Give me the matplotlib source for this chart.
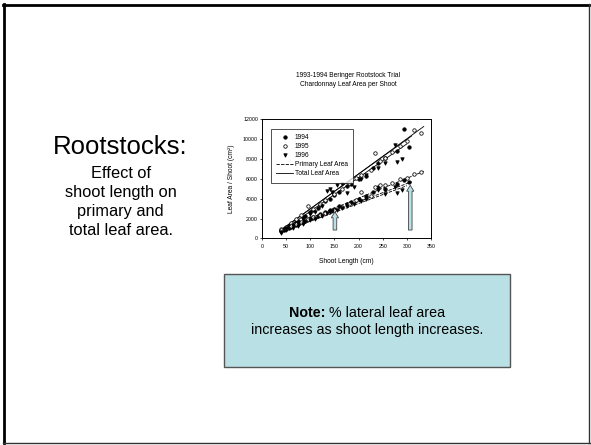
import matplotlib
matplotlib.use('Agg')
import matplotlib.pyplot as plt
from matplotlib.lines import Line2D
from matplotlib.patches import Rectangle, FancyArrow

plt.rcParams['font.family'] = ['Liberation Sans', 'DejaVu Sans']

W, H = 591, 445

# shoot length (cm) with total and primary leaf area (cm2) per shoot
x94 = [40, 45, 55, 60, 70, 75, 85, 90, 100, 105, 115, 120, 130, 140, 150, 160, 175, 185, 200, 215, 230, 240, 255, 280, 295, 305]
total94 = [900, 1000, 1300, 1500, 1700, 1800, 2200, 2300, 2700, 2900, 3100, 3400, 3800, 4000, 4400, 4700, 5300, 5500, 6000, 6300, 7100, 7600, 8100, 8800, 11000, 9200]
primary94 = [800, 900, 1100, 1200, 1400, 1500, 1700, 1800, 2100, 2200, 2300, 2500, 2700, 2900, 3000, 3300, 3500, 3700, 4000, 4300, 4700, 5200, 5000, 5500, 5850, 5680]

x95 = [40, 50, 60, 70, 80, 95, 105, 120, 130, 150, 165, 180, 195, 205, 225, 235, 245, 255, 270, 285, 300, 315, 330]
total95 = [1000, 1200, 1600, 2000, 2400, 3300, 3000, 3500, 3900, 4500, 5000, 5600, 6100, 6400, 6900, 8550, 7800, 8050, 8700, 9300, 9800, 10850, 10580]
primary95 = [900, 1000, 1300, 1500, 1700, 2000, 2200, 2400, 2600, 2900, 3200, 3500, 3900, 4680, 4300, 5180, 5350, 5350, 5600, 5950, 6100, 6450, 6680]

x96 = [40, 50, 65, 75, 85, 100, 110, 125, 135, 140, 145, 155, 165, 175, 190, 205, 215, 240, 255, 275, 280, 290]
total96 = [700, 1100, 1400, 1600, 2000, 2500, 2700, 3300, 4800, 5000, 4700, 5350, 5450, 4600, 5200, 5950, 6400, 7100, 7600, 9350, 7680, 8000]
primary96 = [600, 900, 1100, 1300, 1500, 1900, 2000, 2300, 2600, 2700, 2800, 2900, 3100, 3300, 3500, 3800, 4000, 4850, 4500, 5180, 4550, 4850]

# regression lines per season: shoot length range and leaf area at each end
fit_x = [(40, 310), (40, 335), (40, 300)]
fit_total = [(900, 10300), (850, 11250), (700, 9500)]
fit_primary = [(750, 5700), (850, 6750), (650, 5300)]

# arrows marking 150 cm and 300 cm shoots
arrow_x = [151, 307]
arrow_base = 850
arrow_tip = [2680, 5350]

xticks = [0, 50, 100, 150, 200, 250, 300, 350]
yticks = [0, 2000, 4000, 6000, 8000, 10000, 12000]

side_lines = ['Effect of', 'shoot length on', 'primary and', 'total leaf area.']


def fx(px):
    return px / W


def fy(py):
    return 1 - py / H


fig = plt.figure(figsize=(W / 100, H / 100), dpi=100)

# slide frame, heavy on top and left
fig.add_artist(Line2D([fx(3), fx(589)], [fy(4.6), fy(4.6)], color='black', lw=2.0))
fig.add_artist(Line2D([fx(4.2), fx(4.2)], [fy(3.5), fy(443)], color='black', lw=2.0))
fig.add_artist(Line2D([fx(589), fx(589)], [fy(3.5), fy(443)], color='#333333', lw=1.0))
fig.add_artist(Line2D([fx(3), fx(589.5)], [fy(442.7), fy(442.7)], color='#333333', lw=1.0))

# left hand slide text
fig.text(fx(120.5), fy(147.5), 'Rootstocks:', fontsize=18.5, ha='center', va='center')
for i, line in enumerate(side_lines):
    fig.text(fx(120.8), fy(173.3 + 19.2 * i), line, fontsize=11.8, ha='center', va='center')

# chart title
fig.text(fx(348), fy(75.7), '1993-1994 Beringer Rootstock Trial', fontsize=4.8, ha='center', va='center')
fig.text(fx(348), fy(84.0), 'Chardonnay Leaf Area per Shoot', fontsize=4.8, ha='center', va='center')

ax = fig.add_axes([fx(262), fy(238.5), 169 / W, 119.5 / H])

for xs, tot, prim, mk, face in [(x94, total94, primary94, 'o', 'black'),
                                (x95, total95, primary95, 'o', 'white'),
                                (x96, total96, primary96, 'v', 'black')]:
    ax.plot(xs, tot, linestyle='none', marker=mk, ms=2.5, mfc=face, mec='black', mew=0.55, zorder=3)
    ax.plot(xs, prim, linestyle='none', marker=mk, ms=2.5, mfc=face, mec='black', mew=0.55, zorder=3)

for i in range(len(fit_x)):
    ax.plot(fit_x[i], fit_total[i], color='black', lw=0.6, zorder=2)
    ax.plot(fit_x[i], fit_primary[i], color='black', lw=0.6, dashes=(4, 1.5), zorder=2)

for i in range(len(arrow_x)):
    ax.add_patch(FancyArrow(arrow_x[i], arrow_base, 0, arrow_tip[i] - arrow_base,
                            width=7.5, head_width=15, head_length=600,
                            length_includes_head=True, fc='#b9e0e4', ec='#444444', lw=0.6, zorder=4))

ax.set_xlim(0, 350)
ax.set_ylim(0, 12000)
ax.set_xticks(xticks)
ax.set_yticks(yticks)
ax.tick_params(direction='out', length=1.6, width=0.5, labelsize=3.8)
ax.tick_params(axis='x', pad=2.5)
ax.tick_params(axis='y', pad=1.3)
for sp in ax.spines.values():
    sp.set_linewidth(0.7)

ax.set_xlabel('Shoot Length (cm)', fontsize=4.8)
ax.xaxis.set_label_coords(0.5, -0.165)
ax.set_ylabel('Leaf Area / Shoot (cm²)', fontsize=4.8)
ax.yaxis.set_label_coords(-0.16, 0.5)

handles = [Line2D([], [], linestyle='none', marker='o', ms=2.5, mfc='black', mec='black', mew=0.55),
           Line2D([], [], linestyle='none', marker='o', ms=2.5, mfc='white', mec='black', mew=0.55),
           Line2D([], [], linestyle='none', marker='v', ms=2.5, mfc='black', mec='black', mew=0.55),
           Line2D([], [], color='black', lw=0.6, dashes=(4, 1.5)),
           Line2D([], [], color='black', lw=0.6)]
labels = ['1994', '1995', '1996', 'Primary Leaf Area', 'Total Leaf Area']
leg = ax.legend(handles, labels, loc='upper left', bbox_to_anchor=(0.053, 0.916), borderaxespad=0,
                fontsize=4.8, handlelength=2.5, handletextpad=0.3, labelspacing=0.3,
                borderpad=0.8, frameon=True, fancybox=False)
leg.get_frame().set_edgecolor('black')
leg.get_frame().set_linewidth(0.6)

# note box under the chart
fig.add_artist(Rectangle((fx(224), fy(367)), (510 - 224) / W, (367 - 273.5) / H,
                         fc='#b9e0e4', ec='#555555', lw=1.0))
note_b = fig.text(0, fy(313), 'Note:', fontsize=10.3, fontweight='bold', ha='left', va='center')
note_r = fig.text(0, fy(313), ' % lateral leaf area', fontsize=10.3, ha='left', va='center')
fig.text(fx(367), fy(330), 'increases as shoot length increases.', fontsize=10.3, ha='center', va='center')

r = fig.canvas.get_renderer()
wb = note_b.get_window_extent(r).width
wr = note_r.get_window_extent(r).width
start = 367 - (wb + wr) / 2
note_b.set_x(fx(start))
note_r.set_x(fx(start + wb))

fig.savefig('out.png', dpi=100)
